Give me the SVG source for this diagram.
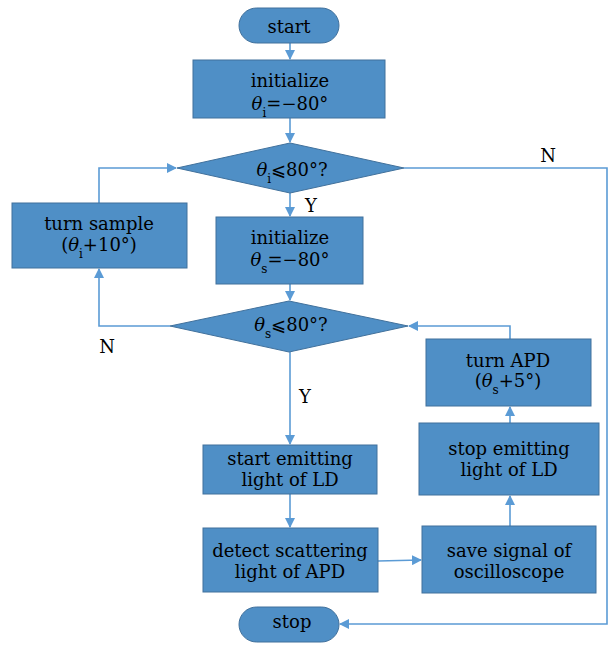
<svg xmlns="http://www.w3.org/2000/svg" width="609" height="646" viewBox="0 0 609 646">
<style>
.n{fill:#4F8FC6;stroke:#41719C;stroke-width:1}
.t{font-family:'DejaVu Serif','Liberation Serif',serif;font-size:18px;fill:#000;text-anchor:middle}
.c{fill:none;stroke:#5B9BD5;stroke-width:1.6}
.s{font-size:12px;font-style:normal}
.i{font-style:italic}
</style>
<defs>
<marker id="ah" markerWidth="10" markerHeight="10" refX="9" refY="5" orient="auto" markerUnits="userSpaceOnUse">
<path d="M0,0 L10,5 L0,10 z" fill="#5B9BD5"/>
</marker>
</defs>
<rect width="609" height="646" fill="#fff"/>
<g id="connectors">
<path class="c" d="M290,43 V59" marker-end="url(#ah)"/>
<path class="c" d="M290,118 V142" marker-end="url(#ah)"/>
<path class="c" d="M290,193 V216" marker-end="url(#ah)"/>
<path class="c" d="M290,284 V300" marker-end="url(#ah)"/>
<path class="c" d="M170,326 H99 V269" marker-end="url(#ah)"/>
<path class="c" d="M99,203 V168 H176" marker-end="url(#ah)"/>
<path class="c" d="M404,168 H607 V624 H340" marker-end="url(#ah)"/>
<path class="c" d="M290,352 V444" marker-end="url(#ah)"/>
<path class="c" d="M290,494 V527" marker-end="url(#ah)"/>
<path class="c" d="M378,561 L421,560" marker-end="url(#ah)"/>
<path class="c" d="M510,526 V496" marker-end="url(#ah)"/>
<path class="c" d="M510,423 V407" marker-end="url(#ah)"/>
<path class="c" d="M510,339 V326 H409" marker-end="url(#ah)"/>
<text class="t" x="548" y="162">N</text>
<text class="t" x="107" y="353">N</text>
<text class="t" x="311" y="212">Y</text>
<text class="t" x="305" y="403">Y</text>
</g>
<g id="start">
<rect class="n" x="239" y="8" width="100" height="35" rx="17.5"/>
<text class="t" x="289" y="33">start</text>
</g>
<g id="init1">
<rect class="n" x="193" y="60" width="192" height="58"/>
<text class="t" x="290" y="87">initialize</text>
<text class="t" x="290" y="110"><tspan class="i">θ</tspan><tspan class="s" dy="7">i</tspan><tspan dy="-7">=−80°</tspan></text>
</g>
<g id="dec1">
<polygon class="n" points="290,143 404,168 290,193 177,168"/>
<text class="t" x="292" y="176"><tspan class="i">θ</tspan><tspan class="s" dy="7">i</tspan><tspan dy="-7">⩽80°?</tspan></text>
</g>
<g id="turnsample">
<rect class="n" x="12" y="203" width="175" height="65"/>
<text class="t" x="99" y="230">turn sample</text>
<text class="t" x="99" y="251">(<tspan class="i">θ</tspan><tspan class="s" dy="7">i</tspan><tspan dy="-7">+10°)</tspan></text>
</g>
<g id="init2">
<rect class="n" x="216" y="217" width="147" height="67"/>
<text class="t" x="290" y="244">initialize</text>
<text class="t" x="290" y="266"><tspan class="i">θ</tspan><tspan class="s" dy="7">s</tspan><tspan dy="-7">=−80°</tspan></text>
</g>
<g id="dec2">
<polygon class="n" points="289,301 408,326 289,352 170,326"/>
<text class="t" x="291" y="331"><tspan class="i">θ</tspan><tspan class="s" dy="7">s</tspan><tspan dy="-7">⩽80°?</tspan></text>
</g>
<g id="turnapd">
<rect class="n" x="426" y="339" width="165" height="67"/>
<text class="t" x="508" y="367">turn APD</text>
<text class="t" x="508" y="387">(<tspan class="i">θ</tspan><tspan class="s" dy="7">s</tspan><tspan dy="-7">+5°)</tspan></text>
</g>
<g id="startemit">
<rect class="n" x="203" y="445" width="174" height="49"/>
<text class="t" x="290" y="465">start emitting</text>
<text class="t" x="290" y="486">light of LD</text>
</g>
<g id="stopemit">
<rect class="n" x="419" y="423" width="180" height="72"/>
<text class="t" x="509" y="455">stop emitting</text>
<text class="t" x="509" y="476">light of LD</text>
</g>
<g id="detect">
<rect class="n" x="203" y="528" width="175" height="64"/>
<text class="t" x="290" y="557">detect scattering</text>
<text class="t" x="290" y="578">light of APD</text>
</g>
<g id="save">
<rect class="n" x="422" y="526" width="174" height="67"/>
<text class="t" x="509" y="557">save signal of</text>
<text class="t" x="509" y="578">oscilloscope</text>
</g>
<g id="stop">
<rect class="n" x="239" y="607" width="100" height="35" rx="17.5"/>
<text class="t" x="292" y="628">stop</text>
</g>
</svg>
